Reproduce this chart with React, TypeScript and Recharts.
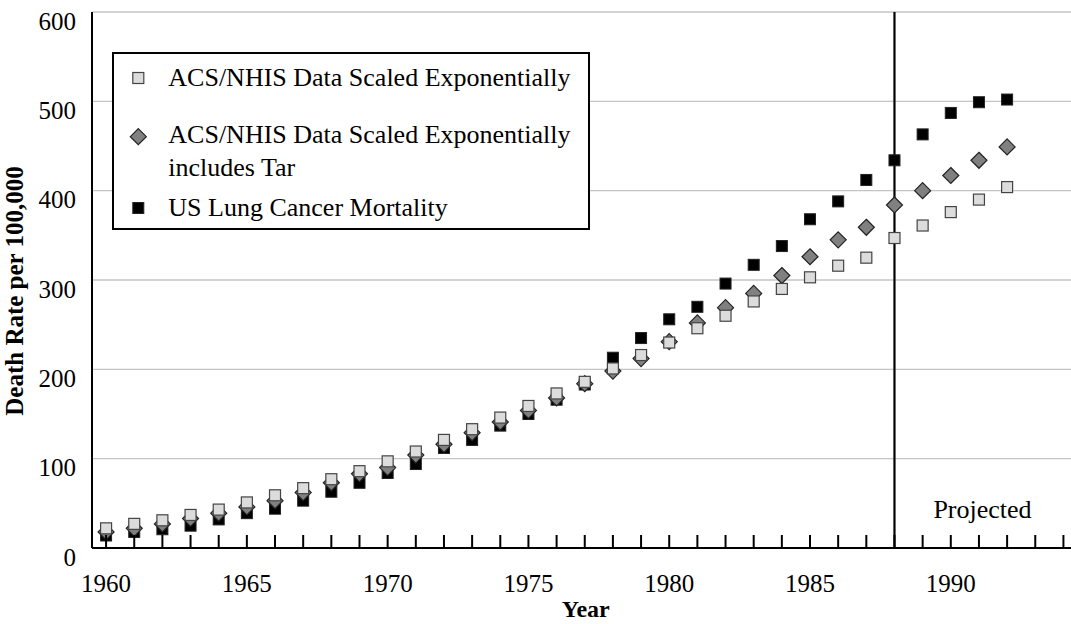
import React from 'react';
import {
  ScatterChart,
  Scatter,
  XAxis,
  YAxis,
  CartesianGrid,
  ReferenceLine,
  Legend,
} from 'recharts';

const years = [
  1960, 1961, 1962, 1963, 1964, 1965, 1966, 1967, 1968, 1969, 1970,
  1971, 1972, 1973, 1974, 1975, 1976, 1977, 1978, 1979, 1980, 1981,
  1982, 1983, 1984, 1985, 1986, 1987, 1988, 1989, 1990, 1991, 1992,
];

const acsValues = [
  22, 27, 31, 37, 43, 51, 59, 67, 77, 86, 97,
  108, 121, 133, 146, 159, 173, 186, 201, 216, 230, 246,
  260, 276, 290, 303, 316, 325, 347, 361, 376, 390, 404,
];

const tarValues = [
  18, 22, 27, 33, 39, 46, 53, 62, 73, 83, 90,
  104, 116, 129, 141, 154, 168, 184, 198, 212, 231, 252,
  269, 285, 305, 326, 345, 359, 384, 400, 417, 434, 449,
];

const usValues = [
  14, 18, 21, 25, 32, 39, 44, 53, 63, 73, 84,
  94, 112, 121, 137, 150, 166, 183, 213, 235, 256, 270,
  296, 317, 338, 368, 388, 412, 434, 463, 487, 499, 502,
];

const xTicks = [
  1960, 1961, 1962, 1963, 1964, 1965, 1966, 1967, 1968, 1969, 1970,
  1971, 1972, 1973, 1974, 1975, 1976, 1977, 1978, 1979, 1980, 1981,
  1982, 1983, 1984, 1985, 1986, 1987, 1988, 1989, 1990, 1991, 1992,
  1993, 1994,
];
const xLabelYears = [1960, 1965, 1970, 1975, 1980, 1985, 1990];
const yTicks = [0, 100, 200, 300, 400, 500, 600];
const projectionYear = 1988;

const seriesNames = [
  'ACS/NHIS Data Scaled Exponentially',
  'ACS/NHIS Data Scaled Exponentially includes Tar',
  'US Lung Cancer Mortality',
];
const tarNameLines = ['ACS/NHIS Data Scaled Exponentially', 'includes Tar'];
const xTitle = 'Year';
const yTitle = 'Death Rate per 100,000';
const projectedText = 'Projected';

const FONT = "'Liberation Serif', 'Times New Roman', Times, serif";

const acsData = years.map((y, i) => ({ year: y, value: acsValues[i] }));
const tarData = years.map((y, i) => ({ year: y, value: tarValues[i] }));
const usData = years.map((y, i) => ({ year: y, value: usValues[i] }));

const LightSquare = (p: any) => (
  <rect x={p.cx - 5.5} y={p.cy - 5.5} width={11} height={11} fill="#dcdcdc" stroke="#444" strokeWidth={1.2} />
);
const BlackSquare = (p: any) => (
  <rect x={p.cx - 5.5} y={p.cy - 5.5} width={11} height={11} fill="#000" stroke="#222" strokeWidth={1} />
);
const Diamond = (p: any) => (
  <polygon
    points={`${p.cx},${p.cy - 8} ${p.cx + 8},${p.cy} ${p.cx},${p.cy + 8} ${p.cx - 8},${p.cy}`}
    fill="#808080"
    stroke="#222"
    strokeWidth={1.2}
  />
);

const XTick = (props: any) => {
  const { x, y, payload } = props;
  return (
    <g>
      <line x1={x} x2={x} y1={y} y2={y - 13} stroke="#000" strokeWidth={2} />
      {xLabelYears.includes(payload.value) && (
        <text x={x} y={y + 44} textAnchor="middle" fontFamily={FONT} fontSize={25} fill="#000">
          {payload.value}
        </text>
      )}
    </g>
  );
};

const YTick = (props: any) => {
  const { x, y, payload } = props;
  return (
    <text x={x - 16} y={y + 17.5} textAnchor="end" fontFamily={FONT} fontSize={25} fill="#000">
      {payload.value}
    </text>
  );
};

const YTitle = (props: any) => {
  const vb = props.viewBox || { x: 0, y: 12, width: 92, height: 536 };
  const cx = 23;
  const cy = vb.y + vb.height / 2 + 11;
  return (
    <text
      x={cx}
      y={cy}
      transform={`rotate(-90, ${cx}, ${cy})`}
      textAnchor="middle"
      fontFamily={FONT}
      fontWeight="bold"
      fontSize={25}
      fill="#000"
    >
      {yTitle}
    </text>
  );
};

const XTitle = (props: any) => {
  const vb = props.viewBox || { x: 92, y: 548, width: 985, height: 40 };
  return (
    <text
      x={vb.x + vb.width / 2 + 1}
      y={vb.y + 69}
      textAnchor="middle"
      fontFamily={FONT}
      fontWeight="bold"
      fontSize={24}
      fill="#000"
    >
      {xTitle}
    </text>
  );
};

const ProjectedLabel = (props: any) => {
  const vb = props.viewBox;
  if (!vb) return null;
  return (
    <text x={vb.x + 88} y={vb.y + vb.height - 30.5} textAnchor="middle" fontFamily={FONT} fontSize={26} fill="#000">
      {projectedText}
    </text>
  );
};

const LegendBox = () => (
  <div
    style={{
      width: 478,
      height: 178,
      boxSizing: 'border-box',
      border: '2px solid #000',
      background: '#fff',
      position: 'relative',
    }}
  >
    <svg width={474} height={174} style={{ position: 'absolute', left: 0, top: 0 }}>
      <LightSquare cx={24.3} cy={24} />
      <text x={54.3} y={32} fontFamily={FONT} fontSize={26} fill="#000">{seriesNames[0]}</text>
      <Diamond cx={24.3} cy={82.7} />
      <text x={54.3} y={89.3} fontFamily={FONT} fontSize={26} fill="#000">{tarNameLines[0]}</text>
      <text x={54.3} y={121.6} fontFamily={FONT} fontSize={26} fill="#000">{tarNameLines[1]}</text>
      <BlackSquare cx={24.3} cy={154} />
      <text x={54.3} y={161.5} fontFamily={FONT} fontSize={26} fill="#000">{seriesNames[2]}</text>
    </svg>
  </div>
);

export default function App() {
  return (
    <div
      style={{
        position: 'absolute',
        left: 0,
        top: 0,
        width: 1071,
        height: 624,
        overflow: 'hidden',
        background: '#fff',
      }}
    >
      <ScatterChart width={1090} height={624} margin={{ top: 12, right: 12.5, bottom: 36, left: 0 }}>
        <CartesianGrid horizontal vertical={false} stroke="#c4c4c4" strokeWidth={1.3} />
        <XAxis
          type="number"
          dataKey="year"
          domain={[1959.5, 1994.5]}
          allowDataOverflow
          ticks={xTicks}
          interval={0}
          tickSize={0}
          tickMargin={0}
          tickLine={false}
          tick={XTick}
          axisLine={{ stroke: '#000', strokeWidth: 2 }}
          height={40}
          label={XTitle}
        />
        <YAxis
          type="number"
          dataKey="value"
          domain={[0, 600]}
          ticks={yTicks}
          interval={0}
          tickSize={0}
          tickMargin={0}
          tickLine={false}
          tick={YTick}
          axisLine={{ stroke: '#000', strokeWidth: 2 }}
          width={92}
          label={YTitle}
        />
        <ReferenceLine x={projectionYear} stroke="#000" strokeWidth={2.2} label={ProjectedLabel} />
        <Scatter name={seriesNames[2]} data={usData} shape={BlackSquare} isAnimationActive={false} />
        <Scatter name={seriesNames[1]} data={tarData} shape={Diamond} isAnimationActive={false} />
        <Scatter name={seriesNames[0]} data={acsData} shape={LightSquare} isAnimationActive={false} />
        <Legend
          layout="vertical"
          align="center"
          verticalAlign="middle"
          wrapperStyle={{ left: 111.7, top: 52, width: 478, height: 178 }}
          content={LegendBox}
        />
      </ScatterChart>
    </div>
  );
}
